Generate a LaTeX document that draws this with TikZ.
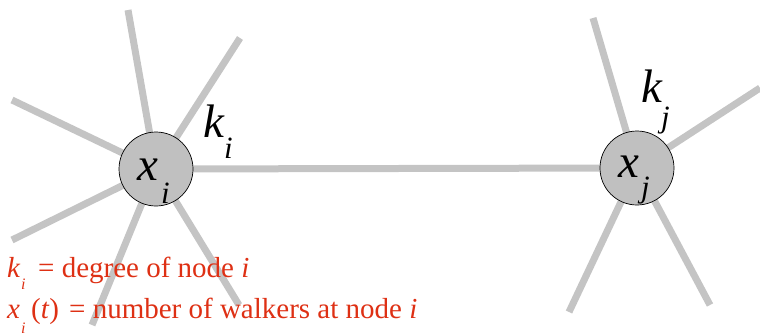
\documentclass[tikz,border=0pt]{standalone}
\usepackage{fontspec}
\setmainfont{Liberation Serif}
\usetikzlibrary{backgrounds}
\definecolor{spokegray}{RGB}{196,196,196}
\definecolor{nodegray}{RGB}{192,192,192}
\definecolor{labred}{RGB}{222,48,20}
\tikzset{
  spoke/.style={draw=spokegray, line width=7pt},
  vertex/.style={circle, draw=black, line width=0.7pt, fill=nodegray, minimum size=74pt, inner sep=0pt},
  bigl/.style={anchor=base west, inner sep=0pt, font=\fontsize{47}{50}\selectfont\itshape},
  subl/.style={anchor=base west, inner sep=0pt, font=\fontsize{31}{34}\selectfont\itshape},
  redl/.style={anchor=base west, inner sep=0pt, text=labred, font=\fontsize{29}{32}\selectfont},
  redsub/.style={anchor=base west, inner sep=0pt, text=labred, font=\fontsize{16}{18}\selectfont\itshape},
}
\begin{document}
\begin{tikzpicture}[x=1pt,y=-1pt]
\useasboundingbox (0,0) rectangle (760,335);
\node[vertex] (ni) at (156,169) {};
\node[vertex] (nj) at (637,168) {};
% free ends
\coordinate (a1) at (128,10);
\coordinate (a2) at (240,38);
\coordinate (a3) at (12,100);
\coordinate (a4) at (12,240);
\coordinate (a5) at (92,325);
\coordinate (a6) at (239,305);
\coordinate (b1) at (593,18);
\coordinate (b2) at (760,88);
\coordinate (b3) at (569,312);
\coordinate (b4) at (710,305);
\begin{scope}[on background layer]
\foreach \c in {a1,a2,a3,a4,a5,a6} \draw[spoke] (ni.center) -- (\c);
\foreach \c in {b1,b2,b3,b4} \draw[spoke] (nj.center) -- (\c);
\draw[spoke] (ni.center) -- (nj.center);
\end{scope}
% node labels
\node[bigl] (xi) at (137,180) {x};
\node[subl] (xis) at (161,203) {i};
\node[bigl] (ki) at (203,137) {k};
\node[subl] (kis) at (224,158) {i};
\node[bigl] (xj) at (618,177) {x};
\node[subl] (xjs) at (641,197) {j};
\node[bigl] (kj) at (641,102) {k};
\node[subl] (kjs) at (661,127) {j};
% legend
\node[redl] (l1k) at (7,277) {\itshape k};
\node[redsub] (l1s) at (21,289) {i};
\node[redl] (l1t) at (38,277) {= degree of node \textit{i}};
\node[redl] (l2x) at (7,318) {\itshape x};
\node[redsub] (l2s) at (21,333) {i};
\node[redl] (l2p) at (31,318) {(\textit{t})};
\node[redl] (l2t) at (69,318) {= number of walkers at node \textit{i}};
\end{tikzpicture}
\end{document}
